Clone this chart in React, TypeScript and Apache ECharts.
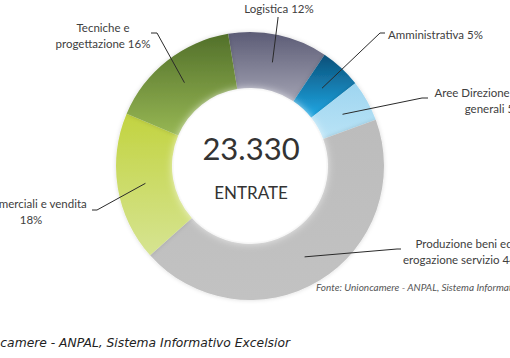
import React, { useEffect, useRef } from "react";
import * as echarts from "echarts";

const categories = [
  "Logistica",
  "Amministrativa",
  "Aree Direzione e servizi generali",
  "Produzione beni ed erogazione servizio",
  "Commerciali e vendita",
  "Tecniche e progettazione",
];
const labelNames = [
  "Logistica",
  "Amministrativa",
  "Aree Direzione e servizi\ngenerali",
  "Produzione beni ed\nerogazione servizio",
  "Commerciali e vendita",
  "Tecniche e\nprogettazione",
];
const labelSeparators = [" ", " ", " ", " ", "\n", " "];
const values = [12, 5, 5, 44, 18, 16];
const totalLabel = "23.330";
const centerLabel = "ENTRATE";
const sourceText = "Fonte: Unioncamere - ANPAL, Sistema Informativo Excelsior";

const gradients: [string, string][] = [
  ["#5c5c76", "#a2a2b2"],
  ["#0a4f78", "#20a9e6"],
  ["#9ed5f0", "#b9e3f6"],
  ["#bcbcbc", "#c2c2c2"],
  ["#c2d340", "#d6e492"],
  ["#52702a", "#97b754"],
];

// label layout (positions for annotations)
const labelPos: { x: number; y: number; align: string; hook: [number, number][] }[] = [
  { x: 279, y: 8, align: "center", hook: [[278, 18], [278, 17]] },
  { x: 388, y: 34, align: "left", hook: [[380, 33], [385, 33]] },
  { x: 494, y: 100, align: "center", hook: [[422, 98], [428, 98]] },
  { x: 464, y: 251, align: "center", hook: [[397, 249], [401, 249]] },
  { x: 31, y: 211, align: "center", hook: [[97, 210], [92, 210]] },
  { x: 103, y: 35, align: "center", hook: [[157, 33], [151, 33]] },
];

const CX = 250;
const CY = 166;
const R0 = 78;
const R1 = 134;
const START = 99.4;

export default function App() {
  const ref = useRef<HTMLDivElement>(null);
  useEffect(() => {
    if (!ref.current) return;
    const chart = echarts.init(ref.current, undefined, { renderer: "svg" });
    const total = values.reduce((a, b) => a + b, 0);
    const mids: [number, number][] = [];
    let acc = 0;
    values.forEach((v) => {
      const midAng = START - ((acc + v / 2) / total) * 360;
      acc += v;
      const rad = (midAng * Math.PI) / 180;
      const rm = (R0 + R1) / 2;
      mids.push([CX + rm * Math.cos(rad), CY - rm * Math.sin(rad)]);
    });
    const common = {
      type: "pie",
      center: [CX, CY],
      radius: [R0, R1],
      startAngle: START,
      clockwise: true,
      avoidLabelOverlap: false,
      silent: true,
    };
    chart.setOption({
      animation: false,
      backgroundColor: "#ffffff",
      series: [
        {
          ...common,
          z: 2,
          data: categories.map((c, i) => ({
            name: c,
            value: values[i],
            itemStyle: {
              color: new echarts.graphic.LinearGradient(0, 0, 0, 1, [
                { offset: 0, color: gradients[i][0] },
                { offset: 1, color: gradients[i][1] },
              ]),
            },
          })),
          itemStyle: {
            borderWidth: 0,
            shadowBlur: 4,
            shadowColor: "rgba(0,0,0,0.15)",
          },
          label: { show: false },
          labelLine: { show: false },
        },
        {
          ...common,
          z: 20,
          data: categories.map((c, i) => ({ name: c, value: values[i] })),
          itemStyle: { color: "rgba(0,0,0,0)", borderWidth: 0 },
          label: {
            show: true,
            formatter: (p: any) =>
              `${labelNames[p.dataIndex]}${labelSeparators[p.dataIndex]}${p.value}%`,
            color: "#404040",
            fontSize: 11.5,
            lineHeight: 16,
            fontFamily: "Lato",
          },
          labelLine: {
            show: true,
            lineStyle: { color: "#2a2a2a", width: 1 },
          },
          labelLayout: (params: any) => {
            const i = params.dataIndex;
            const lp = labelPos[i];
            return {
              x: lp.x,
              y: lp.y,
              align: lp.align,
              verticalAlign: "middle",
              labelLinePoints: [mids[i], ...lp.hook].slice(0, 3),
            };
          },
        },
      ],
      graphic: [
        {
          type: "circle",
          shape: { cx: CX, cy: CY, r: R0 - 2 },
          style: { fill: "#ffffff", shadowBlur: 10, shadowColor: "rgba(255,255,255,1)" },
          silent: true,
          z: 10,
        },
        {
          type: "text",
          x: CX + 1,
          y: 148,
          z: 11,
          style: {
            text: totalLabel,
            fontSize: 31,
            fontFamily: "Lato",
            fill: "#333333",
            align: "center",
            verticalAlign: "middle",
          },
        },
        {
          type: "text",
          x: CX + 1,
          y: 192,
          z: 11,
          style: {
            text: centerLabel,
            fontSize: 17,
            fontFamily: "Lato",
            fill: "#333333",
            align: "center",
            verticalAlign: "middle",
          },
        },
        {
          type: "text",
          x: 316,
          y: 287,
          style: {
            text: sourceText,
            fontSize: 10,
            fontStyle: "italic",
            fontFamily: "Lato",
            fill: "#555555",
            align: "left",
            verticalAlign: "middle",
          },
        },
        {
          type: "text",
          x: 290,
          y: 343,
          style: {
            text: sourceText,
            fontSize: 12.3,
            fontStyle: "italic",
            fontFamily: "DejaVu Sans",
            fill: "#222222",
            align: "right",
            verticalAlign: "middle",
          },
        },
      ],
    });
    return () => chart.dispose();
  }, []);
  return (
    <div
      ref={ref}
      style={{ position: "fixed", left: 0, top: 0, width: 510, height: 358 }}
    />
  );
}
